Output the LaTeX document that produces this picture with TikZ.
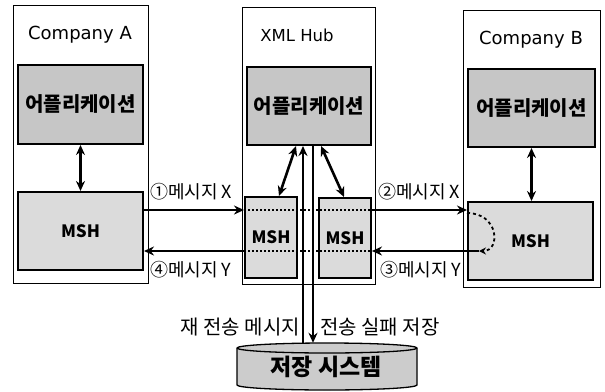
\documentclass[tikz,border=0pt]{standalone}
\usepackage{fontspec}
\setmainfont{Noto Sans CJK KR}
\newfontfamily\latinfont{DejaVu Sans}
\usetikzlibrary{arrows.meta,calc}
\tikzset{
  outerbox/.style={draw, line width=1.3pt, anchor=north west, inner sep=0pt},
  appbox/.style={draw, line width=2pt, fill=gray!45, inner sep=0pt, font=\fontsize{20}{22}\selectfont\bfseries},
  mshbox/.style={draw, line width=2pt, fill=gray!28, inner sep=0pt, font=\fontsize{17}{19}\selectfont\bfseries},
  title/.style={font=\latinfont\fontsize{18}{20}\selectfont, inner sep=0pt},
  lbl/.style={font=\fontsize{18}{20}\selectfont, inner sep=0pt},
  arr/.style={line width=2.6pt, -{Stealth[length=10pt,width=9pt]}},
  dbl/.style={line width=2.6pt, {Stealth[length=10pt,width=9pt]}-{Stealth[length=10pt,width=9pt]}},
}
\begin{document}
\begin{tikzpicture}[x=1pt,y=-1pt]
\useasboundingbox (0,0) rectangle (605,391);
% outer boxes
\node[outerbox, minimum width=135pt, minimum height=278pt] (outerA) at (13,5) {};
\node[outerbox, minimum width=133pt, minimum height=277pt] (outerH) at (242,7) {};
\node[outerbox, minimum width=137pt, minimum height=277pt] (outerB) at (463,10) {};
% titles
\node[title] (tA) at (80,35) {Company A};
\node[title, font=\latinfont\fontsize{16.5}{18}\selectfont] (tH) at (297,35) {XML Hub};
\node[title] (tB) at (531,40) {Company B};
% application boxes
\node[appbox, minimum width=125pt, minimum height=79pt] (appA) at (80.5,104.5) {어플리케이션};
\node[appbox, minimum width=124pt, minimum height=78pt] (appH) at (309,106) {어플리케이션};
\node[appbox, minimum width=127pt, minimum height=78pt] (appB) at (531.5,108) {어플리케이션};
% MSH boxes
\node[mshbox, minimum width=125pt, minimum height=78pt] (mshA) at (80.5,231) {MSH};
\node[mshbox, minimum width=52pt, minimum height=81pt] (mshH1) at (271,237.5) {MSH};
\node[mshbox, minimum width=52pt, minimum height=80pt] (mshH2) at (345,238) {MSH};
\node[mshbox, minimum width=125pt, minimum height=78pt] (mshB) at (530.5,241) {MSH};
% storage cylinder
\draw[line width=1.3pt, fill=gray!40] (237,348) -- (237,385)
  arc[start angle=180, end angle=0, x radius=90, y radius=5] -- (417,348)
  arc[start angle=0, end angle=-180, x radius=90, y radius=5] -- cycle;
\draw[line width=1.3pt] (237,348) arc[start angle=180, end angle=0, x radius=90, y radius=5];
\node[minimum width=180pt, minimum height=47pt, inner sep=0pt, font=\fontsize{23}{25}\selectfont\bfseries] (storage) at (326,366.5) {저장 시스템};
% app <-> MSH
\draw[dbl] (appA.south) -- (mshA.north);
\draw[dbl] (appB.south) -- (appB.south |- mshB.north);
\draw[dbl] ([xshift=50pt]appH.south west) -- ([xshift=35pt]mshH1.north west);
\draw[dbl] ([xshift=75pt]appH.south west) -- ([xshift=26pt]mshH2.north west);
% vertical lines to storage
\coordinate (v1) at ([xshift=57pt]appH.south west);
\coordinate (v2) at ([xshift=67pt]appH.south west);
\draw[arr] (v1 |- storage.north) -- (v1);
\draw[arr] (v2) -- (v2 |- storage.north);
% message rows
\coordinate (rx) at ([yshift=21pt]mshA.east);
\coordinate (ry) at ([yshift=-20pt]mshA.east);
\draw[arr] (rx) -- (rx -| mshH1.west);
\draw[arr] (ry -| mshH1.west) -- (ry);
\draw[line width=2pt, dotted] (rx -| mshH1.west) -- (rx -| mshH2.east);
\draw[line width=2pt, dotted] (ry -| mshH1.west) -- (ry -| mshH2.east);
\draw[arr] (rx -| mshH2.east) -- (rx -| mshB.west);
\coordinate (p3) at ([xshift=12pt]ry -| mshB.west);
\draw[arr] (p3) -- (ry -| mshH2.east);
\draw[line width=1.8pt, dashed, -{Stealth[length=7pt,width=7pt]}] ([yshift=-3pt]rx -| mshB.west) .. controls ([xshift=32pt,yshift=-3pt]rx -| mshB.west) and ([xshift=22pt]p3) .. (p3);
% labels
\node[lbl, anchor=west] (l1) at (150,192) {①메시지 X};
\node[lbl, anchor=west] (l4) at (150,270) {④메시지 Y};
\node[lbl, anchor=west] (l2) at (378,192) {②메시지 X};
\node[lbl, anchor=west] (l3) at (380,270) {③메시지 Y};
\node[lbl, anchor=east, font=\fontsize{20}{22}\selectfont] (lr) at (300,327) {재 전송 메시지};
\node[lbl, anchor=west, font=\fontsize{20}{22}\selectfont] (lf) at (320,327) {전송 실패 저장};
\end{tikzpicture}
\end{document}
